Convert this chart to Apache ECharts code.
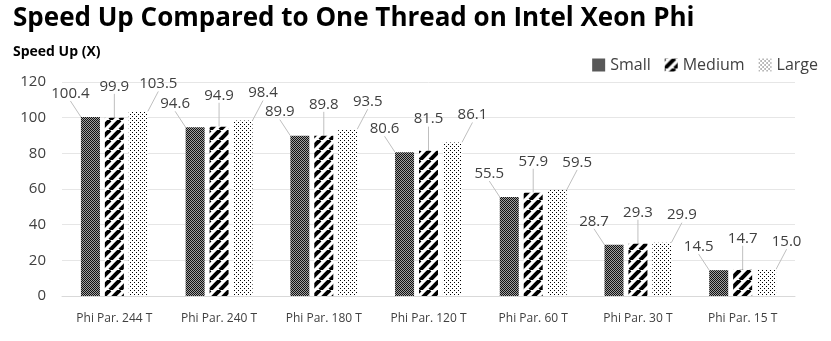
<!DOCTYPE html>
<html>
<head>
<meta charset="utf-8">
<script src="https://cdn.jsdelivr.net/npm/echarts@6/dist/echarts.min.js"></script>
<style>
  html, body { margin: 0; padding: 0; background: #fff; }
  #chart { width: 831px; height: 341px; }
</style>
</head>
<body>
<div id="chart"></div>
<script>
const categories = ['Phi Par. 244 T', 'Phi Par. 240 T', 'Phi Par. 180 T', 'Phi Par. 120 T', 'Phi Par. 60 T', 'Phi Par. 30 T', 'Phi Par. 15 T'];
const small = [100.4, 94.6, 89.9, 80.6, 55.5, 28.7, 14.5];
const medium = [99.9, 94.9, 89.8, 81.5, 57.9, 29.3, 14.7];
const large = [103.5, 98.4, 93.5, 86.1, 59.5, 29.9, 15.0];

// pattern fills like excel's
function makePattern(kind) {
    const c = document.createElement('canvas');
    const ctx = c.getContext('2d');
    if (kind === 'small') {
        c.width = 2; c.height = 2;
        ctx.fillStyle = '#a0a0a0'; ctx.fillRect(0, 0, 2, 2);
        ctx.fillStyle = '#111';
        ctx.fillRect(0, 0, 1, 1); ctx.fillRect(1, 1, 1, 1);
    } else if (kind === 'medium') {
        c.width = 10; c.height = 10;
        ctx.fillStyle = '#fff'; ctx.fillRect(0, 0, 10, 10);
        ctx.strokeStyle = '#000'; ctx.lineWidth = 4;
        for (let k = -10; k <= 20; k += 10) {
            ctx.beginPath(); ctx.moveTo(k, 10); ctx.lineTo(k + 10, 0); ctx.stroke();
        }
    } else {
        c.width = 4; c.height = 4;
        ctx.fillStyle = '#fff'; ctx.fillRect(0, 0, 4, 4);
        ctx.fillStyle = '#000';
        ctx.fillRect(0, 0, 1, 1); ctx.fillRect(2, 2, 1, 1);
    }
    return { image: c, repeat: 'repeat' };
}

function barSeries(name, data, kind, dx, dy) {
    return {
        name: name,
        type: 'bar',
        data: data,
        barWidth: 19,
        barGap: '26%',
        itemStyle: { color: makePattern(kind) },
        label: {
            show: true,
            position: 'top',
            distance: 2,
            color: '#404040',
            fontSize: 15,
            fontFamily: 'Open Sans',
            formatter: p => p.value.toFixed(1)
        },
        labelLayout: { dx: dx, dy: dy },
        labelLine: { show: true, lineStyle: { color: '#bfbfbf', width: 1 } }
    };
}

const chart = echarts.init(document.getElementById('chart'));
chart.setOption({
    animation: false,
    title: [
        {
            text: 'Speed Up Compared to One Thread on Intel Xeon Phi',
            left: 8, top: 1,
            textStyle: { fontFamily: 'Open Sans', fontWeight: 'bold', fontSize: 26, color: '#000' }
        },
        {
            text: 'Speed Up (X)',
            left: 8, top: 40,
            textStyle: { fontFamily: 'Open Sans', fontWeight: 'bold', fontSize: 14, color: '#000' }
        }
    ],
    legend: {
        right: 8, top: 52,
        icon: 'rect',
        itemWidth: 13, itemHeight: 13, itemGap: 14,
        textStyle: { fontFamily: 'Open Sans', fontSize: 16, color: '#404040' },
        data: ['Small', 'Medium', 'Large']
    },
    grid: { left: 62, right: 36, top: 82, bottom: 45 },
    xAxis: {
        type: 'category',
        data: categories,
        axisLine: { lineStyle: { color: '#d9d9d9' } },
        axisTick: { show: false },
        axisLabel: { interval: 0, color: '#404040', fontSize: 12, fontFamily: 'Open Sans', margin: 17 }
    },
    yAxis: {
        type: 'value',
        min: 0, max: 120, interval: 20,
        axisLabel: { color: '#404040', fontSize: 15, fontFamily: 'Open Sans', margin: 16 },
        splitLine: { lineStyle: { color: '#e6e6e6' } }
    },
    series: [
        barSeries('Small', small, 'small', -20, -14),
        barSeries('Medium', medium, 'medium', 0, -22),
        barSeries('Large', large, 'large', 20, -18)
    ]
});
</script>
</body>
</html>
